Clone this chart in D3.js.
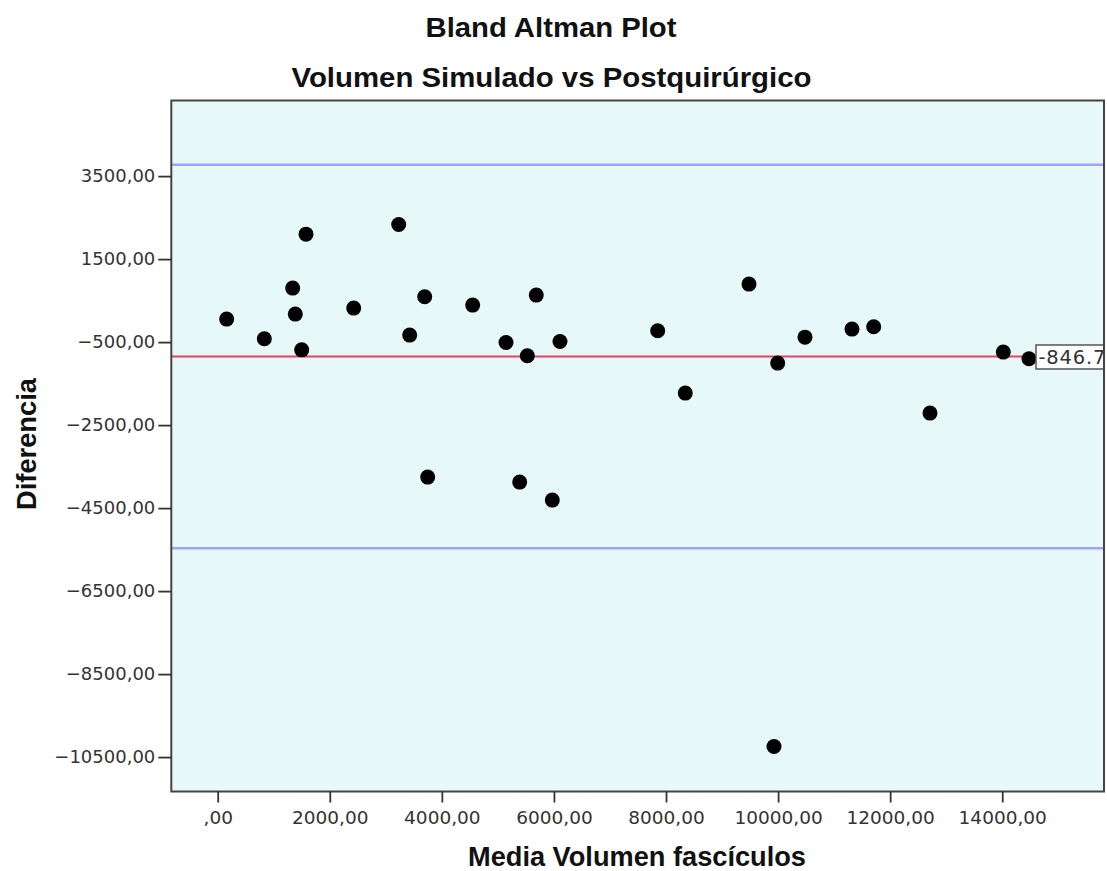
<!DOCTYPE html>
<html>
<head>
<meta charset="utf-8">
<script src="https://cdn.jsdelivr.net/npm/d3@7"></script>
<style>
  html, body { margin: 0; padding: 0; background: #ffffff; }
  svg { display: block; }
</style>
</head>
<body>
<svg id="chart" width="1107" height="871"></svg>
<script>
// ---- Data ----
const meanVolume = [160, 832, 1338, 1385, 1499, 1576, 2427, 3230, 3426, 3694, 3747, 4550, 5145, 5389, 5525, 5685, 5971, 6108, 7852, 8344, 9481, 9927, 9993, 10480, 11319, 11706, 12711, 14019, 14477];
const difference = [54, -420, 801, 175, -686, 2102, 319, 2334, -331, 592, -3753, 392, -510, -3873, -830, 633, -4307, -486, -228, -1729, 898, -10245, -1006, -380, -187, -131, -2211, -741, -902];
const meanDiff = -846.7;
const upperLimit = 3775;
const lowerLimit = -5468;
const meanLabel = "-846.7";
const xTicks = [0, 2000, 4000, 6000, 8000, 10000, 12000, 14000];
const yTicks = [3500, 1500, -500, -2500, -4500, -6500, -8500, -10500];
const xDomain = [-828, 15816];
const yDomain = [-11329, 5322];
const titleLines = ["Bland Altman Plot", "Volumen Simulado vs Postquirúrgico"];
const xTitle = "Media Volumen fascículos";
const yTitle = "Diferencia";

// ---- Layout ----
const svg = d3.select("#chart");
const pLeft = 171.3, pRight = 1104, pTop = 100.5, pBottom = 791.5;

const x = d3.scaleLinear().domain(xDomain).range([pLeft, pRight]);
const y = d3.scaleLinear().domain(yDomain).range([pBottom, pTop]);

const fmt = v => {
  if (v === 0) return ",00";
  const s = Math.abs(v).toFixed(2).replace(".", ",");
  return (v < 0 ? "\u2212" : "") + s;
};

const titleFont = "'Liberation Sans Narrow', 'Liberation Sans', Arial, sans-serif";
const tickFont = "'DejaVu Sans', Verdana, sans-serif";

// background
svg.append("rect")
  .attr("x", pLeft).attr("y", pTop)
  .attr("width", pRight - pLeft).attr("height", pBottom - pTop)
  .attr("fill", "#e7f8f8");

// clip
svg.append("clipPath").attr("id", "plotclip")
  .append("rect")
  .attr("x", pLeft).attr("y", pTop)
  .attr("width", pRight - pLeft).attr("height", pBottom - pTop);

const plot = svg.append("g").attr("clip-path", "url(#plotclip)");

// reference lines
plot.selectAll("line.loa")
  .data([upperLimit, lowerLimit])
  .join("line")
  .attr("class", "loa")
  .attr("x1", pLeft).attr("x2", pRight)
  .attr("y1", d => y(d)).attr("y2", d => y(d))
  .attr("stroke", "#9ea4ff").attr("stroke-width", 2.5);

plot.append("line")
  .attr("x1", pLeft).attr("x2", pRight)
  .attr("y1", y(meanDiff)).attr("y2", y(meanDiff))
  .attr("stroke", "#ea3f66").attr("stroke-width", 2.2);

// points
plot.selectAll("circle.pt")
  .data(meanVolume.map((m, i) => [m, difference[i]]))
  .join("circle")
  .attr("class", "pt")
  .attr("cx", d => x(d[0]))
  .attr("cy", d => y(d[1]))
  .attr("r", 7.5)
  .attr("fill", "#000");

// mean label box
const lblY = y(meanDiff);
plot.append("rect")
  .attr("x", 1036).attr("y", lblY - 11.5)
  .attr("width", 80).attr("height", 24)
  .attr("fill", "#ffffff").attr("stroke", "#555").attr("stroke-width", 1.5);
plot.append("text")
  .attr("x", 1038.5).attr("y", lblY + 8)
  .attr("font-family", tickFont).attr("font-size", 19.5)
  .attr("letter-spacing", 0.8)
  .attr("fill", "#333")
  .text(meanLabel);

// frame
svg.append("rect")
  .attr("x", pLeft).attr("y", pTop)
  .attr("width", pRight - pLeft).attr("height", pBottom - pTop)
  .attr("fill", "none").attr("stroke", "#444").attr("stroke-width", 2);

// axes
const xAxis = d3.axisBottom(x).tickValues(xTicks).tickFormat(fmt).tickSize(11).tickPadding(8);
const gx = svg.append("g").attr("transform", `translate(0,${pBottom})`).call(xAxis);
gx.select(".domain").remove();
gx.selectAll(".tick line").attr("stroke", "#333").attr("stroke-width", 1.8);
gx.selectAll(".tick text")
  .attr("font-family", tickFont).attr("font-size", 18.5).attr("fill", "#333");

const yAxis = d3.axisLeft(y).tickValues(yTicks).tickFormat(fmt).tickSize(13).tickPadding(3);
const gy = svg.append("g").attr("transform", `translate(${pLeft},0)`).call(yAxis);
gy.select(".domain").remove();
gy.selectAll(".tick line").attr("stroke", "#333").attr("stroke-width", 1.8);
gy.selectAll(".tick text")
  .attr("font-family", tickFont).attr("font-size", 18).attr("fill", "#333");

// titles
const titleSpecs = [
  { text: titleLines[0], cx: 551, y: 37, w: 251 },
  { text: titleLines[1], cx: 551.5, y: 87, w: 520 }
];
svg.selectAll("text.title")
  .data(titleSpecs)
  .join("text")
  .attr("class", "title")
  .attr("x", d => d.cx - d.w / 2).attr("y", d => d.y)
  .attr("textLength", d => d.w)
  .attr("lengthAdjust", "spacingAndGlyphs")
  .attr("font-family", titleFont).attr("font-weight", "bold")
  .attr("font-size", 28).attr("fill", "#111")
  .text(d => d.text);

svg.append("text")
  .attr("x", 468).attr("y", 866)
  .attr("textLength", 338).attr("lengthAdjust", "spacingAndGlyphs")
  .attr("font-family", titleFont).attr("font-weight", "bold")
  .attr("font-size", 28).attr("fill", "#111")
  .text(xTitle);

svg.append("text")
  .attr("transform", "translate(36,510) rotate(-90)")
  .attr("x", 0).attr("y", 0)
  .attr("textLength", 132).attr("lengthAdjust", "spacingAndGlyphs")
  .attr("font-family", titleFont).attr("font-weight", "bold")
  .attr("font-size", 28).attr("fill", "#111")
  .text(yTitle);
</script>
</body>
</html>
